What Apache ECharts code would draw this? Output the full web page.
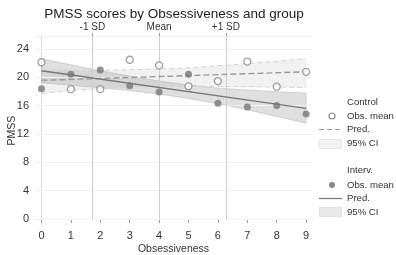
<!DOCTYPE html>
<html>
<head>
<meta charset="utf-8">
<script src="https://cdn.jsdelivr.net/npm/echarts@6/dist/echarts.min.js"></script>
<style>
  html, body { margin: 0; padding: 0; background: #fff; }
  #main { width: 396px; height: 255px; }
</style>
</head>
<body>
<div id="main"></div>
<script>
// values
var obsX = [0, 1, 2, 3, 4, 5, 6, 7, 8, 9]
var controlMean = [22.1, 18.3, 18.3, 22.45, 21.65, 18.7, 19.45, 22.2, 18.65, 20.75]
var intervMean = [18.35, 20.4, 21.0, 18.8, 17.9, 20.4, 16.3, 15.8, 16.0, 14.8]
// prediction lines (end points)
var controlPred = [[0, 19.55], [9, 20.75]]
var intervPred = [[0, 20.9], [9, 15.6]]
// 95% CI bounds at each x
var controlLow = [17.7, 18.1, 18.4, 18.6, 18.7, 18.7, 18.7, 18.65, 18.6, 18.55]
var controlHigh = [21.0, 20.95, 20.95, 21.05, 21.15, 21.3, 21.6, 21.9, 22.25, 22.6]
var intervLow = [19.2, 18.85, 18.5, 18.1, 17.6, 17.0, 16.25, 15.4, 14.45, 13.5]
var intervHigh = [22.6, 21.75, 20.9, 20.15, 19.45, 18.9, 18.45, 18.2, 17.95, 17.75]
var yTicks = [0, 4, 8, 12, 16, 20, 24]
var refLines = [1.73, 4, 6.27]
var refLabels = ['-1 SD', 'Mean', '+1 SD']

function bandData(lo, hi) {
  return obsX.map(function(x, i) { return [x, lo[i], hi[i]] })
}

function bandSeries(lo, hi, fill, stroke, z) {
  return {
    type: 'custom',
    z: z,
    silent: true,
    data: bandData(lo, hi),
    encode: { x: 0, y: [1, 2] },
    renderItem: function(params, api) {
      if (params.dataIndex !== 0) return null
      var pts = []
      for (var i = 0; i < obsX.length; i++) pts.push(api.coord([obsX[i], hi[i]]))
      for (var j = obsX.length - 1; j >= 0; j--) pts.push(api.coord([obsX[j], lo[j]]))
      return {
        type: 'polygon',
        shape: { points: pts },
        style: { fill: fill, stroke: stroke, lineWidth: 1 }
      }
    }
  }
}

function pairs(ys) {
  return obsX.map(function(x, i) { return [x, ys[i]] })
}

var chart = echarts.init(document.getElementById('main'))
var fam = 'Liberation Sans, Arial, sans-serif'
var legendX = 347
var lgFont = '9.6px Liberation Sans'

chart.setOption({
  animation: false,
  title: {
    text: 'PMSS scores by Obsessiveness and group',
    left: 169,
    top: 2,
    textAlign: 'center',
    textStyle: { fontFamily: fam, fontSize: 13.5, fontWeight: 'normal', color: '#222' }
  },
  grid: { left: 35, right: 84, top: 36, bottom: 30, outerBoundsMode: 'none', containLabel: false },
  xAxis: [
    {
      type: 'value',
      min: -0.22,
      max: 9.2,
      name: 'Obsessiveness',
      nameLocation: 'middle',
      nameGap: 18.5,
      nameMoveOverlap: false,
      nameTextStyle: { fontFamily: fam, fontSize: 10.5, color: '#333' },
      axisLine: { show: true, lineStyle: { color: '#ddd' } },
      axisTick: { show: true, length: 4, lineStyle: { color: '#999' }, customValues: obsX },
      axisLabel: { fontFamily: fam, fontSize: 11, color: '#333', margin: 5, customValues: obsX },
      splitLine: { show: false }
    },
    {
      type: 'value',
      position: 'top',
      min: -0.22,
      max: 9.2,
      axisLine: { show: true, lineStyle: { color: '#eee' } },
      axisTick: { show: true, length: 3, lineStyle: { color: '#999' }, customValues: refLines },
      axisLabel: {
        fontFamily: fam, fontSize: 10, color: '#333', margin: 4,
        customValues: refLines,
        formatter: function(v) {
          var k = refLines.indexOf(v)
          return k >= 0 ? refLabels[k] : ''
        }
      },
      splitLine: { show: false }
    }
  ],
  yAxis: {
    type: 'value',
    min: -0.85,
    max: 25.8,
    name: 'PMSS',
    nameLocation: 'middle',
    nameGap: 17,
    nameMoveOverlap: false,
    nameTextStyle: { fontFamily: fam, fontSize: 10.5, color: '#333' },
    axisLine: { show: true, lineStyle: { color: '#ddd' } },
    axisTick: { show: true, length: 4, lineStyle: { color: '#999' }, customValues: yTicks },
    axisLabel: { fontFamily: fam, fontSize: 11, color: '#333', margin: 6, customValues: yTicks },
    splitLine: { show: false }
  },
  series: [
    // grid lines and reference lines
    {
      type: 'line',
      data: [],
      silent: true,
      z: 1,
      markLine: {
        silent: true,
        symbol: 'none',
        label: { show: false },
        animation: false,
        lineStyle: { color: '#f0f0f0', width: 1, type: 'solid' },
        data: yTicks.map(function(v) { return { yAxis: v } })
      }
    },
    {
      type: 'line',
      data: [],
      silent: true,
      z: 1,
      markLine: {
        silent: true,
        symbol: 'none',
        label: { show: false },
        animation: false,
        lineStyle: { color: '#cfcfcf', width: 1, type: 'solid' },
        data: refLines.map(function(v) { return [{ coord: [v, 0] }, { coord: [v, 25.8] }] })
      }
    },
    bandSeries(controlLow, controlHigh, '#f1f1f1', 'rgba(0,0,0,0)', 2),
    bandSeries(intervLow, intervHigh, 'rgba(150,150,150,0.3)', 'rgba(150,150,150,0.35)', 3),
    {
      type: 'line',
      data: pairs(controlHigh),
      showSymbol: false,
      z: 4,
      lineStyle: { color: '#d2d2d2', width: 1, type: [5, 3] }
    },
    {
      type: 'line',
      data: pairs(controlLow),
      showSymbol: false,
      z: 4,
      lineStyle: { color: '#d2d2d2', width: 1, type: [5, 3] }
    },
    {
      name: 'Control Pred.',
      type: 'line',
      data: controlPred,
      showSymbol: false,
      z: 5,
      lineStyle: { color: '#999', width: 1.4, type: [6, 3] }
    },
    {
      name: 'Interv. Pred.',
      type: 'line',
      data: intervPred,
      showSymbol: false,
      z: 5,
      lineStyle: { color: '#777', width: 1.4 }
    },
    {
      name: 'Control Obs. mean',
      type: 'scatter',
      data: pairs(controlMean),
      symbol: 'circle',
      symbolSize: 7,
      z: 6,
      itemStyle: { color: '#fff', borderColor: '#888', borderWidth: 1.3 }
    },
    {
      name: 'Interv. Obs. mean',
      type: 'scatter',
      data: pairs(intervMean),
      symbol: 'circle',
      symbolSize: 7,
      z: 6,
      itemStyle: { color: '#777' }
    }
  ],
  graphic: [
    { type: 'text', left: legendX, top: 97, style: { text: 'Control', font: lgFont, fill: '#333' } },
    { type: 'circle', shape: { cx: 332, cy: 116, r: 3 }, style: { fill: '#fff', stroke: '#888', lineWidth: 1.2 } },
    { type: 'text', left: legendX, top: 111, style: { text: 'Obs. mean', font: lgFont, fill: '#333' } },
    { type: 'line', shape: { x1: 319, y1: 129.5, x2: 342, y2: 129.5 }, style: { stroke: '#999', lineWidth: 1.2, lineDash: [5, 3] } },
    { type: 'text', left: legendX, top: 124, style: { text: 'Pred.', font: lgFont, fill: '#333' } },
    { type: 'rect', shape: { x: 319.5, y: 139.5, width: 22, height: 9 }, style: { fill: '#f3f3f3', stroke: '#e6e6e6' } },
    { type: 'text', left: legendX, top: 138, style: { text: '95% CI', font: lgFont, fill: '#333' } },
    { type: 'text', left: legendX, top: 165, style: { text: 'Interv.', font: lgFont, fill: '#333' } },
    { type: 'circle', shape: { cx: 332, cy: 185, r: 3 }, style: { fill: '#888' } },
    { type: 'text', left: legendX, top: 180, style: { text: 'Obs. mean', font: lgFont, fill: '#333' } },
    { type: 'line', shape: { x1: 319, y1: 198.5, x2: 342, y2: 198.5 }, style: { stroke: '#777', lineWidth: 1.2 } },
    { type: 'text', left: legendX, top: 193, style: { text: 'Pred.', font: lgFont, fill: '#333' } },
    { type: 'rect', shape: { x: 319.5, y: 207.5, width: 22, height: 9 }, style: { fill: '#e9e9e9', stroke: '#e0e0e0' } },
    { type: 'text', left: legendX, top: 207, style: { text: '95% CI', font: lgFont, fill: '#333' } }
  ]
})
</script>
</body>
</html>
